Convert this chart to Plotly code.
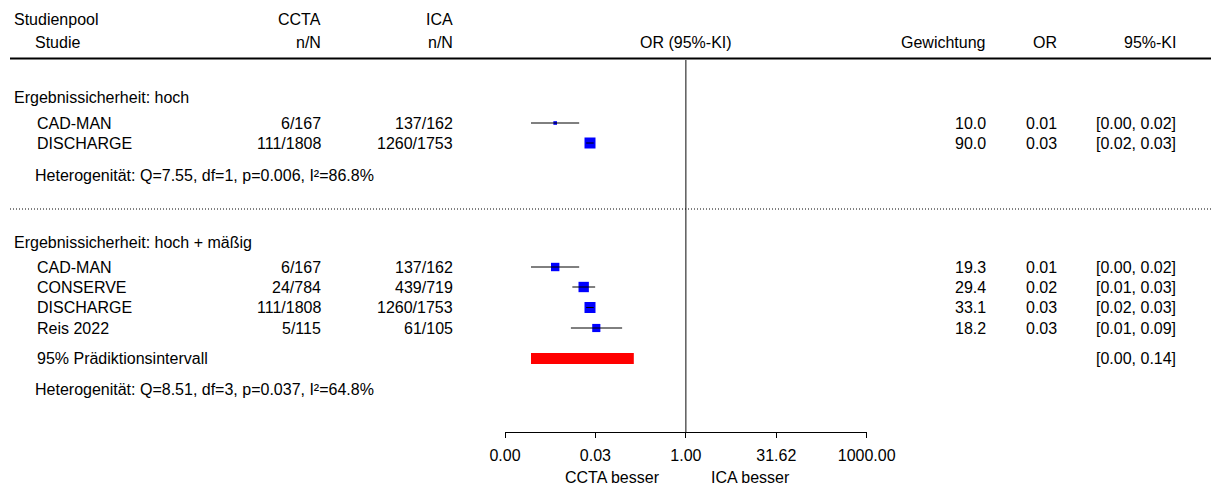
import math
import plotly.graph_objects as go

# ---------------- data ----------------
# Subgroup "hoch"
studies_hoch = ["CAD-MAN", "DISCHARGE"]
ccta_n_hoch = [6, 111]
ccta_N_hoch = [167, 1808]
ica_n_hoch = [137, 1260]
ica_N_hoch = [162, 1753]
or_hoch = [0.0068, 0.0257]
lo_hoch = [0.0027, 0.0222]
hi_hoch = [0.0170, 0.0296]
weight_hoch = [10.0, 90.0]
het_hoch = "Heterogenität: Q=7.55, df=1, p=0.006, I²=86.8%"

# Subgroup "hoch + mäßig"
studies_all = ["CAD-MAN", "CONSERVE", "DISCHARGE", "Reis 2022"]
ccta_n_all = [6, 24, 111, 5]
ccta_N_all = [167, 784, 1808, 115]
ica_n_all = [137, 439, 1260, 61]
ica_N_all = [162, 719, 1753, 105]
or_all = [0.0068, 0.0202, 0.0257, 0.0327]
lo_all = [0.0027, 0.0131, 0.0222, 0.0124]
hi_all = [0.0170, 0.0313, 0.0296, 0.0877]
weight_all = [19.3, 29.4, 33.1, 18.2]
pi_all = [0.0027, 0.137]
het_all = "Heterogenität: Q=8.51, df=3, p=0.037, I²=64.8%"

tick_vals = [0.001, 0.031623, 1, 31.623, 1000]
tick_text = ["0.00", "0.03", "1.00", "31.62", "1000.00"]

# ---------------- layout constants ----------------
W, H = 1211, 486
AXIS_Y = 432                      # pixel row of the OR axis line
FONT = dict(family="Arial, 'Liberation Sans', sans-serif", size=16, color="black")
X_NAME, X_GROUP, X_CCTA, X_ICA = 35, 12, 323, 455
X_W, X_OR, X_CI, X_MID = 988, 1059, 1178, 686
SQ_MAX = 11

annotations = []
shapes = []
traces = []


def txt(s, x, y, anchor="left"):
    annotations.append(dict(text=s, x=x / W, xref="paper", y=y, yref="y",
                            xanchor=anchor, yanchor="middle", showarrow=False,
                            font=FONT))


def block(title, title_y, rows_y, names, cn, cN, inn, iN, ors, los, his, wts,
          het, het_y, pi=None, pi_y=None):
    txt(title, X_GROUP, title_y)
    wmax = max(wts)
    for i, yy in enumerate(rows_y):
        txt(names[i], X_NAME, yy)
        txt(f"{cn[i]}/{cN[i]}", X_CCTA, yy, "right")
        txt(f"{inn[i]}/{iN[i]}", X_ICA, yy, "right")
        txt(f"{wts[i]:.1f}", X_W, yy, "right")
        txt(f"{ors[i]:.2f}", X_OR, yy, "right")
        txt(f"[{los[i]:.2f}, {his[i]:.2f}]", X_CI, yy, "right")
    sizes = [SQ_MAX * math.sqrt(w / wmax) for w in wts]
    traces.append(go.Scatter(x=ors, y=rows_y, mode="markers",
                             marker=dict(symbol="square", size=sizes, opacity=1,
                                         color="#0000FF", line=dict(width=0)),
                             hoverinfo="skip"))
    lx, ly = [], []
    for i, yy in enumerate(rows_y):
        lx += [los[i], his[i], None]
        ly += [yy, yy, None]
    traces.append(go.Scatter(x=lx, y=ly, mode="lines",
                             line=dict(color="black", width=1),
                             hoverinfo="skip"))
    if pi is not None:
        txt("95% Prädiktionsintervall", X_NAME, pi_y)
        txt(f"[{pi[0]:.2f}, {pi[1]:.2f}]", X_CI, pi_y, "right")
        half = 5.5
        traces.append(go.Scatter(x=[pi[0], pi[1], pi[1], pi[0], pi[0]],
                                 y=[pi_y - half, pi_y - half, pi_y + half,
                                    pi_y + half, pi_y - half],
                                 mode="lines", fill="toself", fillcolor="#FF0000",
                                 line=dict(width=0, color="#FF0000"),
                                 hoverinfo="skip"))
    txt(het, X_NAME - 2, het_y)


# column headers
txt("Studienpool", X_GROUP, 19)
txt("CCTA", X_CCTA, 19, "right")
txt("ICA", X_ICA, 19, "right")
txt("Studie", X_NAME - 2, 42)
txt("n/N", X_CCTA, 42, "right")
txt("n/N", X_ICA, 42, "right")
txt("OR (95%-KI)", X_MID, 42, "center")
txt("Gewichtung", X_W, 42, "right")
txt("OR", X_OR, 42, "right")
txt("95%-KI", X_CI, 42, "right")

shapes.append(dict(type="line", xref="paper", yref="y", x0=10 / W, x1=1,
                   y0=58.5, y1=58.5, line=dict(color="black", width=2)))
shapes.append(dict(type="line", xref="paper", yref="y", x0=10 / W, x1=1,
                   y0=209, y1=209,
                   line=dict(color="black", width=1, dash="1px,2px")))

# line of no effect
traces.append(go.Scatter(x=[1, 1], y=[60, AXIS_Y], mode="lines",
                         line=dict(color="#333333", width=1.2), hoverinfo="skip"))

block("Ergebnissicherheit: hoch", 97, [123, 143], studies_hoch,
      ccta_n_hoch, ccta_N_hoch, ica_n_hoch, ica_N_hoch,
      or_hoch, lo_hoch, hi_hoch, weight_hoch, het_hoch, 175)

block("Ergebnissicherheit: hoch + mäßig", 242, [267, 287, 307.5, 328],
      studies_all, ccta_n_all, ccta_N_all, ica_n_all, ica_N_all,
      or_all, lo_all, hi_all, weight_all, het_all, 389,
      pi=pi_all, pi_y=358.5)

for s, xc in (("CCTA besser", 612), ("ICA besser", 750)):
    annotations.append(dict(text=s, x=xc / W, xref="paper", y=(H - 477) / H,
                            yref="paper", xanchor="center", yanchor="middle",
                            showarrow=False, font=FONT))

fig = go.Figure(traces)
fig.update_layout(
    width=W, height=H,
    margin=dict(l=0, r=0, t=0, b=0, autoexpand=False),
    paper_bgcolor="white", plot_bgcolor="white",
    showlegend=False,
    font=FONT,
    annotations=annotations,
    shapes=shapes,
    xaxis=dict(type="log", range=[-3, 3], domain=[505 / W, 866.7 / W],
               showline=True, linecolor="black", linewidth=1,
               ticks="outside", ticklen=5, tickcolor="black", tickwidth=1,
               tickvals=tick_vals, ticktext=tick_text, tickfont=FONT,
               ticklabelstandoff=4, automargin=False,
               showgrid=False, zeroline=False, fixedrange=True),
    yaxis=dict(range=[AXIS_Y, 0], domain=[(H - AXIS_Y) / H, 1], visible=False,
               automargin=False, fixedrange=True),
)

fig.write_html("out.html")
